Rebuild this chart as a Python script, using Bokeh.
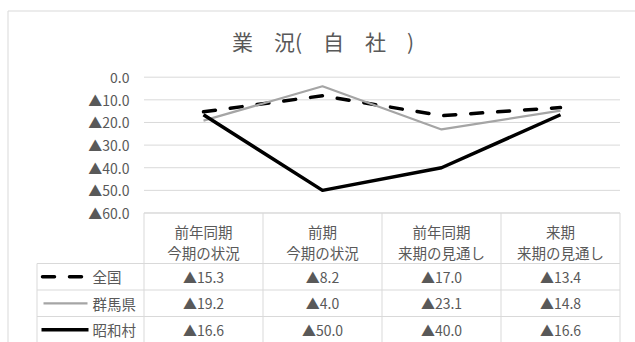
from bokeh.plotting import figure
from bokeh.models import Range1d
from bokeh.core.properties import value
from bokeh.embed import file_html
from bokeh.resources import INLINE

# ---------------- data ----------------
cat_line1 = ["前年同期", "前期", "前年同期", "来期"]
cat_line2 = ["今期の状況", "今期の状況", "来期の見通し", "来期の見通し"]
series_names = ["全国", "群馬県", "昭和村"]
zenkoku = [-15.3, -8.2, -17.0, -13.4]
gunma = [-19.2, -4.0, -23.1, -14.8]
showa = [-16.6, -50.0, -40.0, -16.6]
y_ticks = [0, -10, -20, -30, -40, -50, -60]
title_text = "業　況(　自　社　)"

# ---------------- layout (picture pixels) ----------------
W, H = 635, 342
OX, OY = 0, 0
PLOT_L, COL_W, NCOL = 143.5, 119.0, 4
PLOT_R = PLOT_L + COL_W * NCOL
Y0_PX, Y60_PX = 76.7, 212.5
LEG_L = 36.5
HEADER_BOT = 263.0
ROW_H = 26.5
FONT = "Noto Sans CJK JP"
TXT = "#595959"
GRID = "#D9D9D9"

def fmt(v):
    return ("▲%.1f" % abs(v)) if v < 0 else "%.1f" % v

# main data ranges chosen so that category i sits in column i and 0/-60 hit the grid pixels
px_per_x = COL_W
px_per_y = (Y60_PX - Y0_PX) / 60.0
x_start = -(PLOT_L - OX) / px_per_x
x_end = x_start + W / px_per_x
y_end = (Y0_PX - OY) / px_per_y
y_start = y_end - H / px_per_y

p = figure(width=W, height=H, output_backend="svg", toolbar_location=None,
           x_range=Range1d(x_start, x_end), y_range=Range1d(y_start, y_end),
           x_axis_type=None, y_axis_type=None, min_border=0)
p.extra_x_ranges = {"px": Range1d(OX, OX + W)}
p.extra_y_ranges = {"px": Range1d(OY + H, OY)}
p.grid.visible = False
p.outline_line_color = None
p.background_fill_color = "white"
p.border_fill_color = "white"

PX = dict(x_range_name="px", y_range_name="px")

# outer chart border (left / top)
p.segment(x0=[7.5, 7.5], y0=[10.5, 10.5], x1=[7.5, OX + W], y1=[OY + H, 10.5],
          line_color=GRID, line_width=1, **PX)

# title
p.text(x=[322.5], y=[40], text=[title_text], text_font=value(FONT),
       text_font_size=value("21px"), text_color=TXT, text_align="center",
       text_baseline="middle", **PX)

# gridlines (data scale)
xs_grid = [0] * len(y_ticks)
xe_grid = [NCOL] * len(y_ticks)
p.segment(x0=xs_grid, y0=y_ticks, x1=xe_grid, y1=y_ticks, line_color=GRID, line_width=1)

# y tick labels
p.text(x=[x_start + (129 - OX) / px_per_x] * len(y_ticks), y=y_ticks,
       text=[fmt(t) for t in y_ticks], text_font=value(FONT), text_font_size=value("14px"),
       text_color=TXT, text_align="right", text_baseline="middle")

# ---------------- table ----------------
col_edges = [PLOT_L + i * COL_W for i in range(NCOL + 1)]
row_edges = [HEADER_BOT + i * ROW_H for i in range(len(series_names) + 1)]
hx0 = [PLOT_L] + [LEG_L] * len(row_edges)
hx1 = [PLOT_R] * (1 + len(row_edges))
hy = [Y60_PX] + row_edges
p.segment(x0=hx0, y0=hy, x1=hx1, y1=hy, line_color=GRID, line_width=1, **PX)
vx = [LEG_L] + col_edges
vy0 = [HEADER_BOT] + [Y60_PX] * len(col_edges)
vy1 = [row_edges[-1]] * len(vx)
p.segment(x0=vx, y0=vy0, x1=vx, y1=vy1, line_color=GRID, line_width=1, **PX)

col_centers = [PLOT_L + (i + 0.5) * COL_W for i in range(NCOL)]
p.text(x=col_centers, y=[230.5] * NCOL, text=cat_line1, text_font=value(FONT),
       text_font_size=value("14.5px"), text_color=TXT, text_align="center",
       text_baseline="middle", **PX)
p.text(x=col_centers, y=[251.5] * NCOL, text=cat_line2, text_font=value(FONT),
       text_font_size=value("14.5px"), text_color=TXT, text_align="center",
       text_baseline="middle", **PX)

series = [zenkoku, gunma, showa]
styles = [dict(line_color="black", line_width=3.5, line_dash="12 15", line_cap="round"),
          dict(line_color="#A5A5A5", line_width=2.25),
          dict(line_color="black", line_width=3.5)]
leg_x = [(42, 83), (43, 87), (41, 88)]

for r, (name, vals, st, lx) in enumerate(zip(series_names, series, styles, leg_x)):
    cy = HEADER_BOT + (r + 0.5) * ROW_H
    p.text(x=col_centers, y=[cy] * NCOL, text=[fmt(v) for v in vals], text_font=value(FONT),
           text_font_size=value("14px"), text_color=TXT, text_align="center",
           text_baseline="middle", **PX)
    p.text(x=[92], y=[cy], text=[name], text_font=value(FONT), text_font_size=value("14.5px"),
           text_color=TXT, text_align="left", text_baseline="middle", **PX)
    p.line(x=list(lx), y=[cy, cy], line_join="round", **st, **PX)

# ---------------- series lines (data scale) ----------------
xcat = [i + 0.5 for i in range(NCOL)]
for vals, st in zip(series, styles):
    p.line(x=xcat, y=vals, line_join="round", **st)

open("out.html", "w").write(file_html(p, INLINE))
